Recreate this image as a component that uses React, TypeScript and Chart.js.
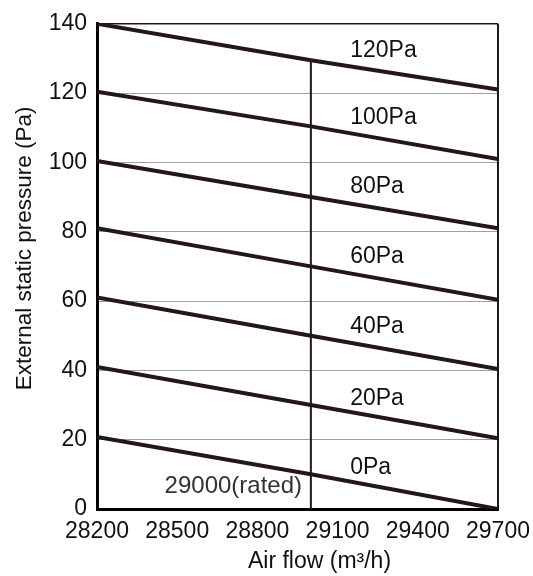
import React, { useEffect, useRef } from "react";
import { Chart, registerables } from "chart.js";

Chart.register(...registerables);

const airFlow = [28200, 29000, 29700];
const line120 = [140, 129.5, 121];
const line100 = [120.4, 110.4, 101];
const line80 = [100.4, 90, 81];
const line60 = [81, 70, 60.4];
const line40 = [61, 50, 40.4];
const line20 = [41, 30, 20.4];
const line0 = [20.8, 10, 0];
const allLines = [line120, line100, line80, line60, line40, line20, line0];

const ratedFlow = 29000;
const ratedLine = [0, 129.5];

const curveLabels = ["120Pa", "100Pa", "80Pa", "60Pa", "40Pa", "20Pa", "0Pa"];
const curveLabelX = 29147;
const curveLabelY = [132.3, 113, 92.9, 72.9, 52.5, 31.7, 11.8];
const ratedText = "29000(rated)";
const ratedTextPos = [28967, 6.6];

const xTitle = "Air flow (m³/h)";
const yTitle = "External static pressure (Pa)";
const xMin = 28200, xMax = 29700, xStep = 300;
const yMin = 0, yMax = 140, yStep = 20;

const LINE = "#231815";
const FONT = "Arial, 'Liberation Sans', sans-serif";

export default function App() {
  const ref = useRef<HTMLCanvasElement | null>(null);
  useEffect(() => {
    const canvas = ref.current!;
    const datasets: any[] = allLines.map((vals) => ({
      data: airFlow.map((x, i) => ({ x, y: vals[i] })),
      borderColor: LINE,
      borderWidth: 4,
      pointRadius: 0,
      tension: 0,
      borderCapStyle: "round",
    }));
    datasets.push({
      data: ratedLine.map((y) => ({ x: ratedFlow, y })),
      borderColor: LINE,
      borderWidth: 2,
      pointRadius: 0,
    });
    const overlay = {
      id: "overlay",
      afterDatasetsDraw(chart: any) {
        const { ctx, chartArea: a, scales } = chart;
        const xs = scales.x, ys = scales.y;
        ctx.save();
        ctx.strokeStyle = LINE;
        ctx.lineWidth = 1.5;
        ctx.beginPath();
        ctx.moveTo(a.left, a.top);
        ctx.lineTo(a.right, a.top);
        ctx.stroke();
        ctx.lineWidth = 2;
        ctx.beginPath();
        ctx.moveTo(a.right, a.top);
        ctx.lineTo(a.right, a.bottom);
        ctx.stroke();
        ctx.fillStyle = "#111";
        ctx.font = `23px ${FONT}`;
        ctx.textAlign = "left";
        ctx.textBaseline = "middle";
        curveLabels.forEach((t, i) => {
          ctx.fillText(t, xs.getPixelForValue(curveLabelX), ys.getPixelForValue(curveLabelY[i]));
        });
        ctx.fillStyle = "#333";
        ctx.textAlign = "right";
        ctx.font = `24px ${FONT}`;
        ctx.fillText(ratedText, xs.getPixelForValue(ratedTextPos[0]), ys.getPixelForValue(ratedTextPos[1]));
        ctx.fillStyle = "#111";
        ctx.textAlign = "center";
        ctx.font = `23px ${FONT}`;
        ctx.fillText(xTitle, (a.left + a.right) / 2 + 22, a.bottom + 53);
        ctx.translate(25, (a.top + a.bottom) / 2 - 18);
        ctx.rotate(-Math.PI / 2);
        ctx.font = `22.5px ${FONT}`;
        ctx.fillText(yTitle, 0, 0);
        ctx.restore();
      },
    };
    const chart = new Chart(canvas, {
      type: "line",
      data: { datasets },
      options: {
        responsive: false,
        animation: false,
        layout: { padding: { left: 0, right: 35, top: 23, bottom: 0 } },
        plugins: { legend: { display: false }, tooltip: { enabled: false } },
        scales: {
          x: {
            type: "linear",
            min: xMin,
            max: xMax,
            afterFit: (s: any) => { s.height = 67; s.paddingRight = 0; s.paddingLeft = 0; },
            ticks: {
              stepSize: xStep,
              padding: 9,
              color: "#111",
              font: { size: 23, family: FONT },
              maxRotation: 0,
              callback: (v: any) => String(v),
            },
            grid: { color: "rgba(0,0,0,0)", drawTicks: false },
            border: { display: true, color: "#000", width: 3 },
          },
          y: {
            min: yMin,
            max: yMax,
            afterFit: (s: any) => { s.width = 97; },
            ticks: {
              stepSize: yStep,
              padding: 10,
              color: "#111",
              font: { size: 23, family: FONT },
            },
            grid: { color: "#a0a0a0", lineWidth: 1, drawTicks: false },
            border: { display: true, color: "#000", width: 3 },
          },
        },
      },
      plugins: [overlay],
    } as any);
    return () => chart.destroy();
  }, []);
  return (
    <div style={{ position: "fixed", left: 0, top: 0, width: 533, height: 576, background: "#fff" }}>
      <canvas ref={ref} width={533} height={576} style={{ display: "block" }} />
    </div>
  );
}
